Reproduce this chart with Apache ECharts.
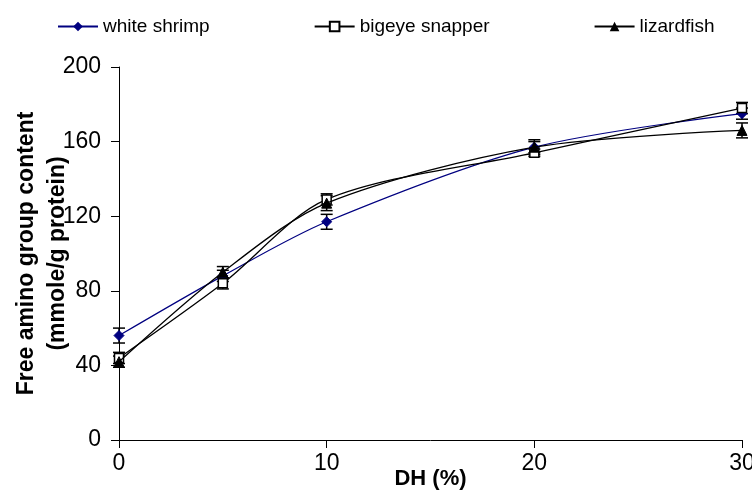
<!DOCTYPE html>
<html>
<head>
<meta charset="utf-8">
<script src="https://cdn.jsdelivr.net/npm/echarts@6/dist/echarts.min.js"></script>
<style>
  html, body { margin: 0; padding: 0; background: #fff; }
  #chart { width: 752px; height: 492px; }
</style>
</head>
<body>
<div id="chart"></div>
<script>
// Degree of hydrolysis (%) at which samples were taken
const dh = [0, 5, 10, 20, 30];

// Free amino group content (mmole/g protein) and standard deviations
const whiteShrimp = [56, 88, 117, 157, 175];
const whiteShrimpSd = [4, 3, 4, 3, 3];
const bigeyeSnapper = [44, 84, 129, 154, 178];
const bigeyeSnapperSd = [3, 3, 3, 2, 3];
const lizardfish = [42, 90, 127, 157, 166];
const lizardfishSd = [3, 3, 4, 4, 4];

const seriesNames = ['white shrimp', 'bigeye snapper', 'lizardfish'];
const yTicks = [0, 40, 80, 120, 160, 200];
const xTicks = [0, 10, 20, 30];

const font = 'Liberation Sans, Arial, Helvetica, sans-serif';

function pairs(values) {
  return dh.map((x, i) => [x, values[i]]);
}

function errorData(values, sd) {
  return dh.map((x, i) => [x, values[i] - sd[i], values[i] + sd[i]]);
}

function errorSeries(values, sd) {
  return {
    type: 'custom',
    silent: true,
    z: 1,
    data: errorData(values, sd),
    renderItem: function (params, api) {
      const x = api.value(0);
      const lo = api.coord([x, api.value(1)]);
      const hi = api.coord([x, api.value(2)]);
      const half = 6;
      const style = { stroke: '#000', lineWidth: 1.5 };
      return {
        type: 'group',
        children: [
          { type: 'line', shape: { x1: lo[0], y1: lo[1], x2: hi[0], y2: hi[1] }, style },
          { type: 'line', shape: { x1: lo[0] - half, y1: lo[1], x2: lo[0] + half, y2: lo[1] }, style },
          { type: 'line', shape: { x1: hi[0] - half, y1: hi[1], x2: hi[0] + half, y2: hi[1] }, style }
        ]
      };
    }
  };
}

const chart = echarts.init(document.getElementById('chart'), null, { renderer: 'canvas' });

chart.setOption({
  animation: false,
  backgroundColor: '#fff',
  textStyle: { fontFamily: font },
  legend: {
    top: 12,
    left: 52,
    itemGap: 104,
    itemWidth: 40,
    itemHeight: 12,
    textStyle: { fontFamily: font, fontSize: 19, color: '#000' },
    data: seriesNames
  },
  grid: { left: 119, right: 10, top: 67, bottom: 52, containLabel: false, outerBoundsMode: 'none' },
  xAxis: {
    type: 'value',
    min: xTicks[0],
    max: xTicks[xTicks.length - 1],
    interval: 10,
    name: 'DH (%)',
    nameLocation: 'middle',
    nameGap: 28,
    nameMoveOverlap: false,
    nameTextStyle: { fontFamily: font, fontSize: 22, fontWeight: 'bold', color: '#000' },
    axisLine: { onZero: false, lineStyle: { color: '#000', width: 1 } },
    axisTick: { show: true, inside: false, length: 8, lineStyle: { color: '#000' } },
    axisLabel: { fontFamily: font, fontSize: 23, color: '#000', margin: 12 },
    splitLine: { show: false }
  },
  yAxis: {
    type: 'value',
    min: yTicks[0],
    max: yTicks[yTicks.length - 1],
    interval: 40,
    name: 'Free amino group content\n(mmole/g protein)',
    nameLocation: 'middle',
    nameRotate: 90,
    nameGap: 46,
    nameMoveOverlap: false,
    nameTextStyle: { fontFamily: font, fontSize: 23, fontWeight: 'bold', color: '#000', lineHeight: 31 },
    axisLine: { show: true, lineStyle: { color: '#000', width: 1 } },
    axisTick: { show: true, inside: false, length: 8, lineStyle: { color: '#000' } },
    axisLabel: { fontFamily: font, fontSize: 23, color: '#000', margin: 18 },
    splitLine: { show: false }
  },
  series: [
    errorSeries(whiteShrimp, whiteShrimpSd),
    errorSeries(bigeyeSnapper, bigeyeSnapperSd),
    errorSeries(lizardfish, lizardfishSd),
    {
      name: seriesNames[0],
      type: 'line',
      z: 3,
      smooth: 0.3,
      data: pairs(whiteShrimp),
      symbol: 'diamond',
      symbolSize: 10,
      color: '#000080',
      lineStyle: { color: '#000080', width: 1.2 },
      itemStyle: { color: '#000080', borderColor: '#000080' }
    },
    {
      name: seriesNames[1],
      type: 'line',
      z: 3,
      smooth: 0.3,
      data: pairs(bigeyeSnapper),
      symbol: 'rect',
      symbolSize: 9,
      color: '#000',
      lineStyle: { color: '#000', width: 1.3 },
      itemStyle: { color: '#fff', borderColor: '#000', borderWidth: 1.5 }
    },
    {
      name: seriesNames[2],
      type: 'line',
      z: 4,
      smooth: 0.3,
      data: pairs(lizardfish),
      symbol: 'triangle',
      symbolSize: 10,
      color: '#000',
      lineStyle: { color: '#000', width: 1.3 },
      itemStyle: { color: '#000', borderColor: '#000' }
    }
  ]
});
</script>
</body>
</html>
